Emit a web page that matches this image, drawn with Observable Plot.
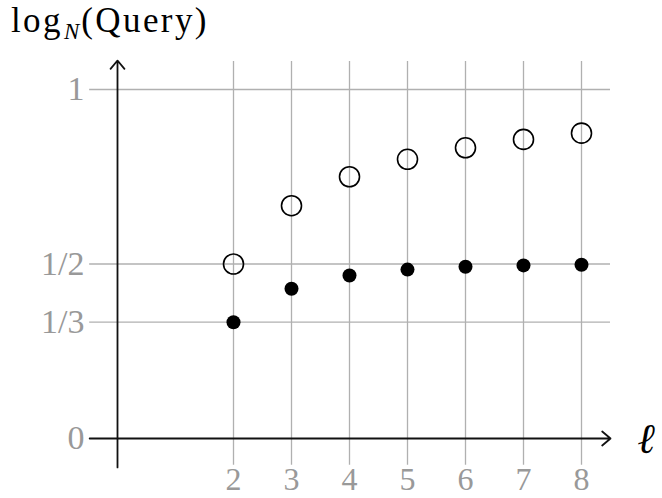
<!DOCTYPE html>
<html>
<head>
<meta charset="utf-8">
<script src="https://cdn.jsdelivr.net/npm/d3@7"></script>
<script src="https://cdn.jsdelivr.net/npm/@observablehq/plot@0.6"></script>
<style>
  html, body { margin: 0; padding: 0; background: #fff; }
  #wrap { position: relative; width: 662px; height: 498px; }
  #ylabel { position: absolute; left: 11px; top: 1px; font-family: "Liberation Serif", serif; font-size: 35px; letter-spacing: 2.4px; color: #000; white-space: nowrap; }
  #ylabel sub { font-style: italic; font-size: 23px; vertical-align: -7px; margin-left: 1px; margin-right: 2px; letter-spacing: 0; }
  #xlabel { position: absolute; left: 638px; top: 414px; font-family: "DejaVu Serif", serif; font-style: italic; font-weight: bold; font-size: 42px; color: #000; }
</style>
</head>
<body>
<div id="wrap">
  <div id="chart"></div>
  <div id="ylabel">log<sub>N</sub>(Query)</div>
  <div id="xlabel">ℓ</div>
</div>
<script>
const ells = [2, 3, 4, 5, 6, 7, 8];
const upperValues = [0.5, 0.667, 0.75, 0.8, 0.833, 0.857, 0.875];
const lowerValues = [0.333, 0.429, 0.467, 0.484, 0.492, 0.496, 0.498];
const yTickValues = [0, 1/3, 1/2, 1];
const yTickLabels = ["0", "1/3", "1/2", "1"];
const xTickLabels = ["2", "3", "4", "5", "6", "7", "8"];

// extents of the drawn axes / grid (in data units)
const xMin = -0.48, xMax = 8.5;
const yMin = -0.077, yMax = 1.08;

const upper = ells.map((l, i) => ({l, v: upperValues[i]}));
const lower = ells.map((l, i) => ({l, v: lowerValues[i]}));
const yTicks = yTickValues.map((v, i) => ({v, label: yTickLabels[i]}));
const xTicks = ells.map((l, i) => ({l, label: xTickLabels[i]}));

const gridColor = "#b0b0b0";
const labelColor = "#999";
const font = "Liberation Serif";

const chart = Plot.plot({
  width: 662,
  height: 498,
  margin: 0,
  style: {background: "#fff", overflow: "visible"},
  x: {domain: [0, 8], range: [117, 581], axis: null},
  y: {domain: [0, 1], range: [438, 89], axis: null},
  marks: [
    Plot.ruleX(ells, {x: d => d, y1: yMin, y2: yMax, stroke: gridColor, strokeWidth: 1.3}),
    Plot.ruleY(yTickValues.filter(v => v > 0), {y: d => d, x1: xMin, x2: xMax, stroke: gridColor, strokeWidth: 1.3}),
    Plot.arrow([{x1: xMin, y1: 0, x2: xMax, y2: 0}], {x1: "x1", y1: "y1", x2: "x2", y2: "y2", bend: 0, headLength: 9, headAngle: 80, stroke: "#111", strokeWidth: 1.8}),
    Plot.arrow([{x1: 0, y1: -0.083, x2: 0, y2: yMax + 0.003}], {x1: "x1", y1: "y1", x2: "x2", y2: "y2", bend: 0, headLength: 9, headAngle: 80, stroke: "#111", strokeWidth: 1.8}),
    Plot.text(yTicks, {x: 0, y: "v", text: "label", dx: -33, textAnchor: "end", fill: labelColor, fontFamily: font, fontSize: 34, letterSpacing: "1.5px"}),
    Plot.text(xTicks, {x: "l", text: "label", frameAnchor: "bottom", dy: -19, lineAnchor: "middle", fill: labelColor, fontFamily: font, fontSize: 32}),
    Plot.dot(upper, {x: "l", y: "v", r: 10, fill: "none", stroke: "#000", strokeWidth: 1.6}),
    Plot.dot(lower, {x: "l", y: "v", r: 7, fill: "#000", stroke: "none"})
  ]
});
document.getElementById("chart").appendChild(chart);
</script>
</body>
</html>
